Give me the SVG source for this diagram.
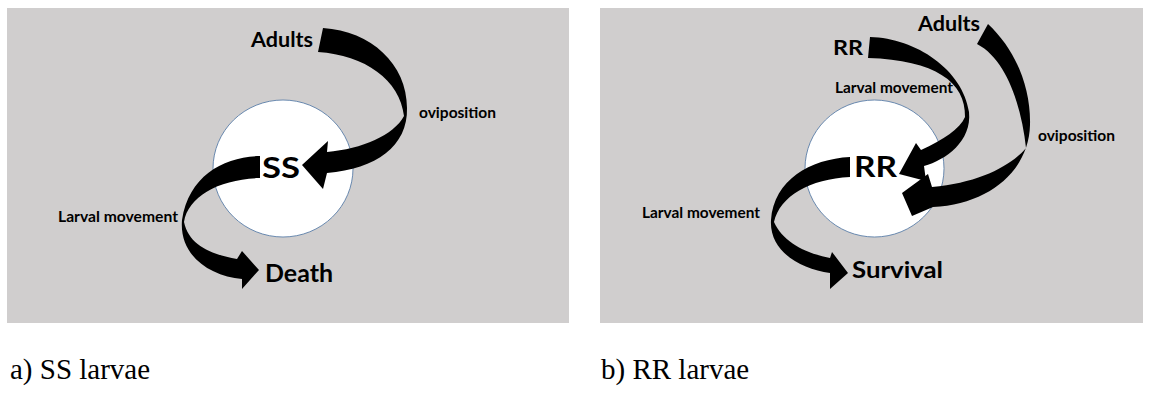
<svg xmlns="http://www.w3.org/2000/svg" width="1153" height="395" viewBox="0 0 1153 395">
<style>
.panel{fill:#d0cece}
.cell{fill:#ffffff;stroke:#5a7ea8;stroke-width:0.9}
.arrow{fill:#000000}
.lbl{font-family:Lato,"Open Sans","Liberation Sans",sans-serif;font-weight:700;fill:#000}
.cap{font-family:"Liberation Serif","Times New Roman",serif;fill:#000;font-size:29px}
</style>
<rect width="1153" height="395" fill="#ffffff"/>
<g id="panel-a">
  <rect class="panel" x="7" y="8" width="562" height="315"/>
  <g id="node-ss"><ellipse class="cell" cx="283" cy="168.5" rx="70" ry="68.5"/></g>
  <g id="connectors-a">
    <path class="arrow" d="M323,28 C371,31 407,64 407,108 C408,146 376,169 327,173 L323,189 L302,165 L328,141 L327,152 C362,149 394,135 404,116 C400,80 365,55 318,52 Z"/>
    <path class="arrow" d="M260,156 C224,157 189,175 182,220 C179,256 210,276 242,279 L242,289 L259,270 L242,251 L237,259 C210,254 189,245 184,222 C188,196 220,179 260,178 Z"/>
  </g>
  <g id="label-adults-a"><text class="lbl" x="251" y="47" font-size="20" textLength="62" lengthAdjust="spacingAndGlyphs">Adults</text></g>
  <g id="label-ovi-a"><text class="lbl" x="419" y="118" font-size="15" textLength="77" lengthAdjust="spacingAndGlyphs">oviposition</text></g>
  <g id="label-ss"><text class="lbl" x="262" y="178" font-size="29" textLength="38" lengthAdjust="spacingAndGlyphs">SS</text></g>
  <g id="label-larval-a"><text class="lbl" x="58" y="222" font-size="15" textLength="120" lengthAdjust="spacingAndGlyphs">Larval movement</text></g>
  <g id="node-death"><text class="lbl" x="265" y="282" font-size="24" textLength="68" lengthAdjust="spacingAndGlyphs">Death</text></g>
</g>
<g id="panel-b">
  <rect class="panel" x="600" y="8" width="543" height="315"/>
  <g id="node-rr"><ellipse class="cell" cx="874.5" cy="168.5" rx="69.5" ry="68.5"/></g>
  <g id="connectors-b">
    <path class="arrow" d="M870,37 C916,38 963,70 969,112 C972,141 946,160 924,166 L926,181 L899,174 L916,143 L921,150 C943,140 960,129 965,117 C966,82 935,60 868,58 Z"/>
    <path class="arrow" d="M988,24 C1016,50 1031,88 1030,125 C1029,170 990,204 933,207 L912,216 L902,193 L928,174 L932,187 C980,183 1012,165 1026,148 C1022,110 1008,60 977,44 Z"/>
    <path class="arrow" d="M850,157 C810,159 774,180 771,220 C769,251 800,269 830,273 L830,289 L848,273 L832,252 L830,258 C805,253 783,242 774,222 C780,196 810,179 850,177 Z"/>
  </g>
  <g id="label-adults-b"><text class="lbl" x="918" y="31" font-size="20" textLength="62" lengthAdjust="spacingAndGlyphs">Adults</text></g>
  <g id="label-rr-top"><text class="lbl" x="833" y="55" font-size="21" textLength="30" lengthAdjust="spacingAndGlyphs">RR</text></g>
  <g id="label-larval-b1"><text class="lbl" x="835" y="93" font-size="15" textLength="118" lengthAdjust="spacingAndGlyphs">Larval movement</text></g>
  <g id="label-ovi-b"><text class="lbl" x="1038" y="141" font-size="15" textLength="77" lengthAdjust="spacingAndGlyphs">oviposition</text></g>
  <g id="label-rr"><text class="lbl" x="854" y="177" font-size="29" textLength="43" lengthAdjust="spacingAndGlyphs">RR</text></g>
  <g id="label-larval-b2"><text class="lbl" x="642" y="218" font-size="15" textLength="118" lengthAdjust="spacingAndGlyphs">Larval movement</text></g>
  <g id="node-survival"><text class="lbl" x="852" y="278" font-size="23" textLength="91" lengthAdjust="spacingAndGlyphs">Survival</text></g>
</g>
<g id="captions">
  <text class="cap" x="10" y="379">a) SS larvae</text>
  <text class="cap" x="601" y="379">b) RR larvae</text>
</g>
</svg>
